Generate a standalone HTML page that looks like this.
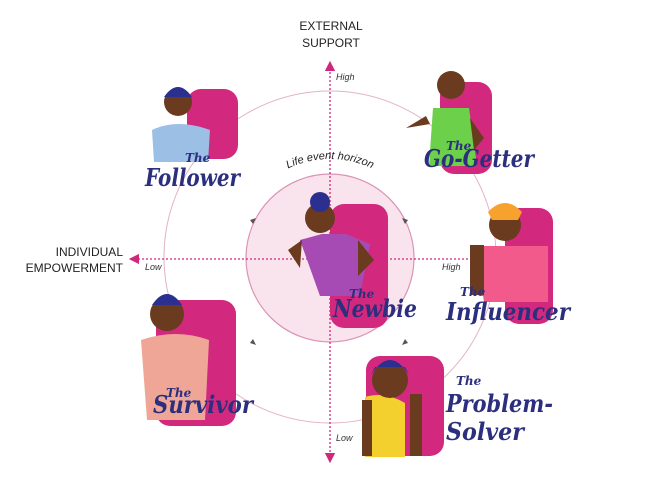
<!DOCTYPE html>
<html><head><meta charset="utf-8"><style>
html,body{margin:0;padding:0;background:#fff;width:670px;height:503px;overflow:hidden}
.ax{font-family:"Liberation Sans",sans-serif;font-size:12px;fill:#222}
.sm{font-family:"Liberation Sans",sans-serif;font-size:9px;font-style:italic;fill:#333}
.nm{font-family:"DejaVu Serif",serif;font-style:italic;font-weight:bold;fill:#2b2f7e}
.th{font-family:"DejaVu Serif",serif;font-style:italic;font-weight:bold;fill:#2b2f7e;font-size:12px}
</style></head><body>
<svg width="670" height="503" viewBox="0 0 670 503" xmlns="http://www.w3.org/2000/svg">
<defs>
<marker id="ar" markerWidth="8" markerHeight="8" refX="4" refY="4" orient="auto"><path d="M0,0 L8,4 L0,8 z" fill="#d0277e"/></marker>
<path id="arc" d="M 272,178 A 98 98 0 0 1 388,178"/>
</defs>
<circle cx="330" cy="257" r="166" fill="none" stroke="#e3b3c8" stroke-width="1"/>
<circle cx="330" cy="258" r="84" fill="#f9e3ec" stroke="#dc93b5" stroke-width="1.2"/>
<line x1="330" y1="258" x2="330" y2="66" stroke="#d0277e" stroke-width="1.3" stroke-dasharray="2,2" marker-end="url(#ar)"/>
<line x1="330" y1="258" x2="330" y2="458" stroke="#d0277e" stroke-width="1.3" stroke-dasharray="2,2" marker-end="url(#ar)"/>
<line x1="480" y1="259" x2="134" y2="259" stroke="#d0277e" stroke-width="1.3" stroke-dasharray="2,2" marker-end="url(#ar)"/>
<text class="ax" x="331" y="30" text-anchor="middle">EXTERNAL</text>
<text class="ax" x="331" y="47" text-anchor="middle">SUPPORT</text>
<text class="ax" x="123" y="256" text-anchor="end">INDIVIDUAL</text>
<text class="ax" x="123" y="272" text-anchor="end">EMPOWERMENT</text>
<text class="sm" x="336" y="80">High</text>
<text class="sm" x="145" y="270">Low</text>
<text class="sm" x="442" y="270">High</text>
<text class="sm" x="336" y="441">Low</text>
<text font-family="Liberation Sans,sans-serif" font-style="italic" font-size="11" fill="#222"><textPath href="#arc" startOffset="50%" text-anchor="middle">Life event horizon</textPath></text>
<g fill="#555"><path d="M250,220 l6,-2 -3,6z"/><path d="M408,220 l-6,-2 3,6z"/><path d="M250,343 l6,2 -3,-6z"/><path d="M408,343 l-6,2 3,-6z"/></g>

<!-- Follower -->
<rect x="187" y="89" width="51" height="70" rx="14" fill="#d2297f"/>
<path d="M152,130 q25,-12 58,0 l-2,32 h-54z" fill="#9cbfe6"/>
<circle cx="178" cy="102" r="14" fill="#6b3b1f"/><path d="M164,97 q14,-20 28,0" fill="#2b2f90"/>
<text class="th" x="185" y="162">The</text>
<text class="nm" x="145" y="186" font-size="24" textLength="95" lengthAdjust="spacingAndGlyphs">Follower</text>

<!-- Go-Getter -->
<rect x="440" y="82" width="52" height="92" rx="14" fill="#d2297f"/>
<path d="M433,108 l36,0 l8,58 h-48z" fill="#6cd04a"/>
<circle cx="451" cy="85" r="14" fill="#6b3b1f"/>
<path d="M406,128 l20,-12 l4,8z M470,118 l14,20 -10,12z" fill="#6b3b1f"/>
<text class="th" x="446" y="150">The</text>
<text class="nm" x="424" y="167" font-size="24" textLength="110" lengthAdjust="spacingAndGlyphs">Go-Getter</text>

<!-- Newbie -->
<rect x="330" y="204" width="58" height="124" rx="14" fill="#d2297f"/>
<path d="M300,240 l22,-6 l24,0 l24,10 l-10,52 h-40z" fill="#a64ab4"/>
<circle cx="320" cy="218" r="15" fill="#6b3b1f"/><circle cx="320" cy="202" r="10" fill="#2b2f90"/>
<path d="M288,250 l14,-10 -2,28z M358,240 l16,20 -16,16z" fill="#6b3b1f"/>
<text class="th" x="349" y="298">The</text>
<text class="nm" x="333" y="317" font-size="24" textLength="84" lengthAdjust="spacingAndGlyphs">Newbie</text>

<!-- Influencer -->
<rect x="505" y="208" width="48" height="116" rx="14" fill="#d2297f"/>
<path d="M476,246 l72,0 l0,56 l-64,0z" fill="#f25a8c"/>
<circle cx="505" cy="225" r="16" fill="#6b3b1f"/><path d="M488,212 q17,-18 34,0 l-4,8 h-26z" fill="#f6a22c"/>
<rect x="470" y="245" width="14" height="50" fill="#6b3b1f"/>
<text class="th" x="460" y="296">The</text>
<text class="nm" x="446" y="320" font-size="24" textLength="124" lengthAdjust="spacingAndGlyphs">Influencer</text>

<!-- Survivor -->
<rect x="156" y="300" width="80" height="126" rx="14" fill="#d2297f"/>
<path d="M141,340 q35,-12 68,0 l-4,80 h-58z" fill="#f0a696"/>
<circle cx="167" cy="314" r="17" fill="#6b3b1f"/><path d="M152,305 q15,-22 30,0" fill="#2b2f90"/>
<text class="th" x="166" y="397">The</text>
<text class="nm" x="153" y="413" font-size="24" textLength="100" lengthAdjust="spacingAndGlyphs">Survivor</text>

<!-- Problem-Solver -->
<rect x="366" y="356" width="78" height="100" rx="14" fill="#d2297f"/>
<path d="M365,397 q20,-6 40,6 l0,54 h-40z" fill="#f4d02e"/>
<circle cx="390" cy="380" r="18" fill="#6b3b1f"/><path d="M371,375 q19,-30 38,0 l-4,-8 h-30z" fill="#2b2f90"/>
<rect x="362" y="400" width="10" height="56" fill="#6b3b1f"/><rect x="410" y="394" width="12" height="62" fill="#6b3b1f"/>
<text class="th" x="456" y="385">The</text>
<text class="nm" x="446" y="412" font-size="24" textLength="107" lengthAdjust="spacingAndGlyphs">Problem-</text>
<text class="nm" x="446" y="440" font-size="24" textLength="78" lengthAdjust="spacingAndGlyphs">Solver</text>
</svg>
</body></html>
